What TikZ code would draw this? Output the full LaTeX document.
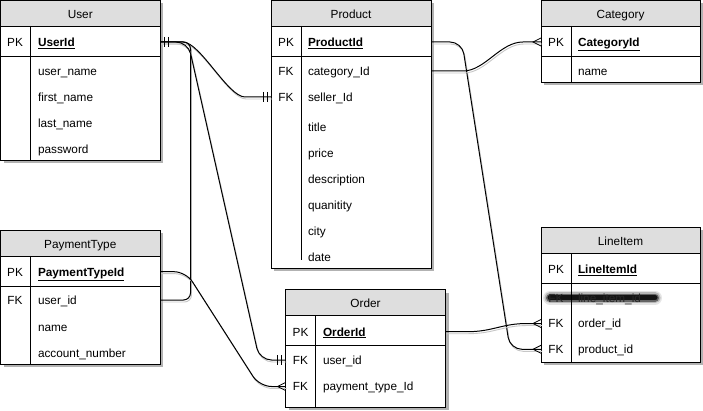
\documentclass[tikz,border=0pt]{standalone}
\usepackage{fontspec}
\setmainfont{Liberation Sans}
\usetikzlibrary{shadows}
\newcommand\ertable[9]{%
  \node[tablebox, anchor=north west, minimum width={#4-#2}, minimum height={#7-#3}] (#1) at (#2,#3) {};
  \fill[headfill] (#2,#3) rectangle (#4,#5);
  \draw[rule] (#2,#3) rectangle (#4,#7);
  \draw[rule] (#2,#5) -- (#4,#5);
  \draw[rule] (#2,#6) -- (#4,#6);
  \draw[rule] (#8,#5) -- (#8,#9);
}
\newcommand\erconn[2][]{\draw[connshadow,#1] #2; \draw[conn,#1] #2;}
\newcommand\mandone[2]{%
  \draw[ermark] ([xshift={#2*4pt}]#1) ++(0,-5) -- ++(0,10);
  \draw[ermark] ([xshift={#2*8pt}]#1) ++(0,-5) -- ++(0,10);
}
\newcommand\crowfoot[2]{%
  \draw[ermark] ([yshift=4pt]#1) -- ([xshift={#2*8pt}]#1) -- ([yshift=-4pt]#1);
}
\begin{document}
\begin{tikzpicture}[x=1pt,y=-1pt,
  tablebox/.style={draw=black, line width=0.9pt, fill=white, inner sep=0pt, outer sep=0pt,
    drop shadow={shadow xshift=3pt, shadow yshift=-3pt, fill=black, opacity=0.3}},
  headfill/.style={fill=black!13},
  rule/.style={draw=black, line width=0.9pt},
  txt/.style={inner sep=0pt, outer sep=0pt, text height=10pt, text depth=1.2pt,
    font=\fontsize{11.8}{13}\selectfont},
  fld/.style={txt, anchor=west},
  keylab/.style={txt, anchor=center},
  conn/.style={draw=black, line width=1pt},
  connshadow/.style={draw=black!22, line width=0.9pt, transform canvas={shift={(1pt,-2pt)}}},
  ermark/.style={draw=black, line width=0.8pt},
]
\useasboundingbox (0,0) rectangle (703,411);
\fill[white] (0,0) rectangle (703,411);

% ---------- tables ----------
\ertable{user}{0.5}{0.5}{160}{26}{56}{160}{30}{160}
\ertable{product}{271}{0.5}{431}{26}{56}{268}{301}{260}
\ertable{category}{541}{0.5}{700}{26}{56}{82}{571}{82}
\ertable{paytype}{0.5}{230}{160}{256}{286}{364}{30}{364}
\ertable{order}{285.5}{289.5}{445.5}{315.5}{345.5}{407}{315.5}{407}
\ertable{lineitem}{541}{227.5}{700}{253.5}{283.5}{362}{571}{362}

% ---------- User ----------
\node[keylab] (user-t) at ([yshift=-14pt]user.north) {User};
\node[keylab] (user-pk) at (15,42) {PK};
\node[fld] (userid) at (38,42) {\underline{\textbf{UserId}}};
\node[fld] (user-un) at (38,71) {user\_name};
\node[fld] (user-fn) at (38,97) {first\_name};
\node[fld] (user-ln) at (38,123) {last\_name};
\node[fld] (user-pw) at (38,149) {password};

% ---------- Product ----------
\node[keylab] (product-t) at ([yshift=-14pt]product.north) {Product};
\node[keylab] (product-pk) at (286,42) {PK};
\node[fld] (productid) at (308,42) {\underline{\textbf{ProductId}}};
\node[keylab] (product-fk1) at (286,71) {FK};
\node[fld] (prodcat) at (308,71) {category\_Id};
\node[keylab] (product-fk2) at (286,97) {FK};
\node[fld] (sellerid) at (308,97) {seller\_Id};
\node[fld] (prod-title) at (308,127) {title};
\node[fld] (prod-price) at (308,153) {price};
\node[fld] (prod-desc) at (308,179) {description};
\node[fld] (prod-qty) at (308,205) {quanitity};
\node[fld] (prod-city) at (308,231) {city};
\node[fld] (prod-date) at (308,257) {date};

% ---------- Category ----------
\node[keylab] (category-t) at ([yshift=-14pt]category.north) {Category};
\node[keylab] (category-pk) at (556,42) {PK};
\node[fld] (categoryid) at (578,42) {\underline{\textbf{CategoryId}}};
\node[fld] (cat-name) at (578,71) {name};

% ---------- PaymentType ----------
\node[keylab] (paytype-t) at ([yshift=-14pt]paytype.north) {PaymentType};
\node[keylab] (paytype-pk) at (15,271.7) {PK};
\node[fld] (paytypeid) at (38,271.7) {\underline{\textbf{PaymentTypeId}}};
\node[keylab] (paytype-fk) at (15,300) {FK};
\node[fld] (payuserid) at (38,300) {user\_id};
\node[fld] (pay-name) at (38,327) {name};
\node[fld] (pay-acc) at (38,353) {account\_number};

% ---------- Order ----------
\node[keylab] (order-t) at ([yshift=-14pt]order.north) {Order};
\node[keylab] (order-pk) at (300.5,331.7) {PK};
\node[fld] (orderid) at (323,331.7) {\underline{\textbf{OrderId}}};
\node[keylab] (order-fk1) at (300.5,360) {FK};
\node[fld] (ouserid) at (323,360) {user\_id};
\node[keylab] (order-fk2) at (300.5,386.5) {FK};
\node[fld] (opayid) at (323,386.5) {payment\_type\_Id};

% ---------- LineItem ----------
\node[keylab] (lineitem-t) at ([yshift=-14pt]lineitem.north) {LineItem};
\node[keylab] (lineitem-pk) at (556,269) {PK};
\node[fld] (lineitemid) at (578,269) {\underline{\textbf{LineItemId}}};
\foreach \w/\o in {14/0.10, 11/0.2, 8/0.45, 5/0.8}
  \draw[line width=\w pt, line cap=round, opacity=\o] (550,297.7) -- (655,297.7);
\node[keylab, text=black!85] (lineitem-fk0) at (556,297.7) {FK};
\node[fld, text=black!85] (lineitemid2) at (578,297.7) {line\_item\_id};
\node[keylab] (lineitem-fk1) at (556,323.5) {FK};
\node[fld] (lorderid) at (578,323.5) {order\_id};
\node[keylab] (lineitem-fk2) at (556,349.3) {FK};
\node[fld] (lprodid) at (578,349.3) {product\_id};

% ---------- connector end points ----------
\coordinate (uPK) at (userid -| user.east);
\coordinate (pSeller) at (sellerid -| product.west);
\coordinate (pUser) at (payuserid -| paytype.east);
\coordinate (oUser) at (ouserid -| order.west);
\coordinate (payPK) at (paytypeid -| paytype.east);
\coordinate (oPay) at (opayid -| order.west);
\coordinate (prPK) at (productid -| product.east);
\coordinate (lProd) at (lprodid -| lineitem.west);
\coordinate (prCat) at (prodcat -| product.east);
\coordinate (cPK) at (categoryid -| category.west);
\coordinate (oPK) at (orderid -| order.east);
\coordinate (lOrder) at (lorderid -| lineitem.west);

% ---------- connectors ----------
\erconn{(uPK) -- ++(23,0) .. controls +(17,0) and +(-17,0) .. ([xshift=-26pt]pSeller) -- (pSeller)}
\erconn[rounded corners=7pt]{(uPK) -- ++(30.5,0) |- (pUser)}
\erconn[rounded corners=12pt]{(uPK) -- ++(28,0) -- ([xshift=-26pt]oUser) -- (oUser)}
\erconn[rounded corners=12pt]{(payPK) -- ++(26,0) -- ([xshift=-26pt]oPay) -- (oPay)}
\erconn[rounded corners=12pt]{(prPK) -- ++(31,0) -- ([xshift=-31pt]lProd) -- (lProd)}
\erconn{(prCat) -- ++(32,0) .. controls +(22,0) and +(-23,0) .. ([xshift=-18pt]cPK) -- (cPK)}
\erconn{(oPK) -- ++(22,0) .. controls +(25,0) and +(-25,0) .. ([xshift=-14pt]lOrder) -- (lOrder)}

% ---------- markers ----------
\mandone{uPK}{1}
\mandone{pSeller}{-1}
\mandone{oUser}{-1}
\crowfoot{oPay}{-1}
\crowfoot{lProd}{-1}
\crowfoot{cPK}{-1}
\crowfoot{lOrder}{-1}
\end{tikzpicture}
\end{document}
